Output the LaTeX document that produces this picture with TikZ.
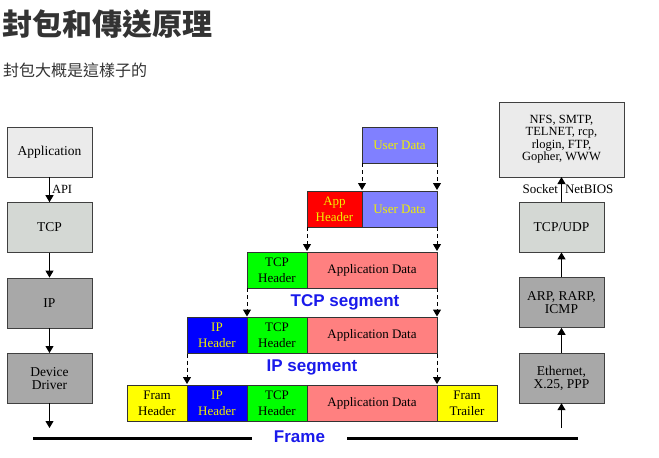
\documentclass[tikz,border=0pt]{standalone}
\usepackage{fontspec}
\setmainfont{Liberation Serif}
\newfontfamily\cjk{Noto Sans CJK TC}
\newfontfamily\segfont{Liberation Sans}
\usetikzlibrary{arrows.meta,positioning}
\definecolor{ink}{RGB}{51,51,51}
\definecolor{lightbox}{RGB}{235,235,235}
\definecolor{midbox}{RGB}{212,216,212}
\definecolor{darkbox}{RGB}{168,168,168}
\definecolor{userblue}{RGB}{128,128,255}
\definecolor{appred}{RGB}{255,0,0}
\definecolor{tcpgreen}{RGB}{0,255,0}
\definecolor{ipblue}{RGB}{0,0,255}
\definecolor{framyellow}{RGB}{255,255,0}
\definecolor{datapink}{RGB}{255,128,128}
\definecolor{segblue}{RGB}{26,26,235}
\definecolor{labelyellow}{RGB}{240,240,0}
\newcommand{\boxfont}{\fontsize{13.5}{13}\selectfont}
\newcommand{\cellfont}{\fontsize{13}{16}\selectfont}

\begin{document}
\begin{tikzpicture}[
  x=1pt, y=-1pt,
  node distance=25pt,
  layer/.style={draw=black!75, minimum width=85pt, minimum height=50pt, align=center, inner sep=2pt, font=\boxfont},
  cell/.style={draw=black!80, minimum height=36pt, inner sep=1pt, outer sep=0pt, align=center, font=\cellfont},
  hdr/.style={cell, minimum width=60pt},
  arrow/.style={-{Triangle[length=7pt,width=8pt]}, line width=1pt},
  dasharrow/.style={-{Triangle[length=7pt,width=8pt]}, line width=1pt, dash pattern=on 4pt off 3pt, shorten >=1pt},
  seglabel/.style={font=\segfont\bfseries\fontsize{17}{17}\selectfont, text=segblue},
  small/.style={font=\fontsize{13}{13}\selectfont, inner sep=3pt},
]
  \useasboundingbox[fill=white] (0,0) rectangle (659,458);

  % heading
  \node[anchor=base west, inner sep=0pt, text=ink, font=\cjk\bfseries\fontsize{30}{30}\selectfont] (title) at (2,35) {封包和傳送原理};
  \node[anchor=base west, inner sep=0pt, text=ink, font=\cjk\fontsize{16}{16}\selectfont] (subtitle) at (3,76) {封包大概是這樣子的};

  % sending stack
  \node[layer, fill=lightbox] (app) at (49.5,152) {Application};
  \node[layer, fill=midbox, below=of app] (tcp) {TCP};
  \node[layer, fill=darkbox, below=of tcp] (ip) {IP};
  \node[layer, fill=darkbox, below=of ip] (driver) {Device\\Driver};
  \coordinate (sendend) at (49.5,428);
  \draw[arrow] (app.south) -- (tcp.north) node[midway, right, small, font=\fontsize{12.5}{12}\selectfont, inner sep=2pt] {API};
  \draw[arrow] (tcp) -- (ip);
  \draw[arrow] (ip) -- (driver);
  \draw[arrow] (driver.south) -- (sendend);

  % receiving stack
  \node[layer, fill=darkbox] (ether) at (561.5,378) {Ethernet,\\X.25, PPP};
  \node[layer, fill=darkbox, above=of ether] (arp) {ARP, RARP,\\ICMP};
  \node[layer, fill=midbox, above=of arp] (tcpudp) {TCP/UDP};
  \node[layer, fill=lightbox, above=of tcpudp, minimum width=125pt, minimum height=75pt, font=\fontsize{12.5}{12.5}\selectfont] (apps) {NFS, SMTP,\\TELNET, rcp,\\rlogin, FTP,\\Gopher, WWW};
  \coordinate (recvstart) at (561.5,428);
  \draw[arrow] (recvstart) -- (ether.south);
  \draw[arrow] (ether) -- (arp);
  \draw[arrow] (arp) -- (tcpudp);
  \draw[arrow] (tcpudp.north) -- (apps.south)
    node[midway, left, small] {Socket}
    node[midway, right, small] {NetBIOS};

  % user data
  \node[cell, fill=userblue, text=labelyellow, minimum width=75pt, anchor=east] (ud1) at (437,145) {User Data};

  % application header
  \node[cell, fill=userblue, text=labelyellow, minimum width=75pt, anchor=east] (ud2) at (437,209) {User Data};
  \node[cell, fill=appred, text=labelyellow, minimum width=55pt, left=0pt of ud2] (ah2) {App\\Header};

  % TCP segment
  \node[cell, fill=datapink, minimum width=130pt, anchor=east] (ad3) at (437,270) {Application Data};
  \node[hdr, fill=tcpgreen, left=0pt of ad3] (th3) {TCP\\Header};
  \node[seglabel] (tcpseg) at (345,302) {TCP segment};

  % IP segment
  \node[cell, fill=datapink, minimum width=130pt, anchor=east] (ad4) at (437,335.5) {Application Data};
  \node[hdr, fill=tcpgreen, left=0pt of ad4] (th4) {TCP\\Header};
  \node[hdr, fill=ipblue, text=labelyellow, left=0pt of th4] (ih4) {IP\\Header};
  \node[seglabel] (ipseg) at (312,367) {IP segment};

  % frame
  \node[cell, fill=datapink, minimum width=130pt, anchor=east] (ad5) at (437,403) {Application Data};
  \node[hdr, fill=tcpgreen, left=0pt of ad5] (th5) {TCP\\Header};
  \node[hdr, fill=ipblue, text=labelyellow, left=0pt of th5] (ih5) {IP\\Header};
  \node[hdr, fill=framyellow, left=0pt of ih5] (fh5) {Fram\\Header};
  \node[hdr, fill=framyellow, right=0pt of ad5] (ft5) {Fram\\Trailer};

  \draw[dasharrow] (ud1.south west) -- (ud2.north west);
  \draw[dasharrow] (ud1.south east) -- (ud2.north east);
  \draw[dasharrow] (ah2.south west) -- (ad3.north west);
  \draw[dasharrow] (ud2.south east) -- (ad3.north east);
  \draw[dasharrow] (th3.south west) -- (th4.north west);
  \draw[dasharrow] (ad3.south east) -- (ad4.north east);
  \draw[dasharrow] (ih4.south west) -- (ih5.north west);
  \draw[dasharrow] (ad4.south east) -- (ad5.north east);

  % wire
  \node[seglabel, inner xsep=22pt] (frame) at (299.5,437) {Frame};
  \coordinate (wireleft) at (33,438);
  \coordinate (wireright) at (578,438);
  \draw[line width=3pt] (wireleft) -- (wireleft -| frame.west);
  \draw[line width=3pt] (wireright -| frame.east) -- (wireright);
\end{tikzpicture}
\end{document}
